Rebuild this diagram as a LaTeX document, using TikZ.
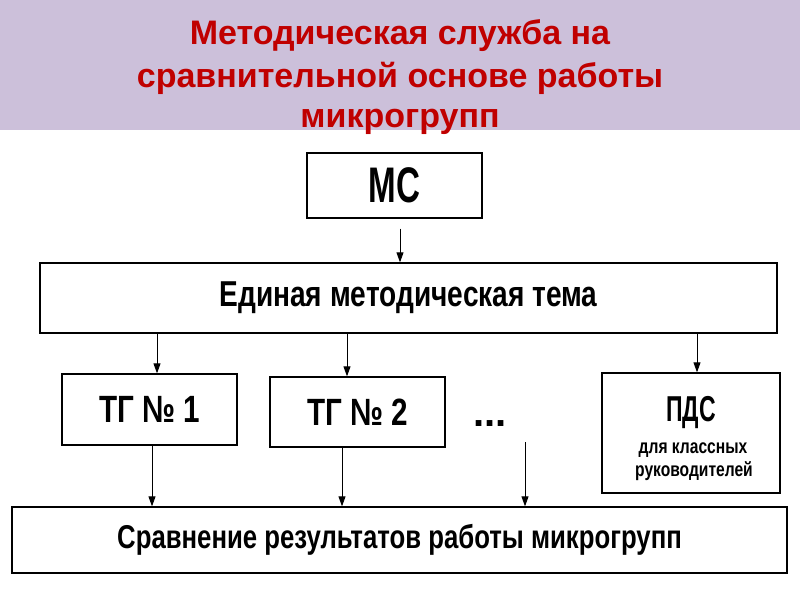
\documentclass[tikz,border=0pt]{standalone}
\usepackage{fontspec}
\setmainfont{Liberation Sans}
\newfontfamily\narrowfont[FakeStretch=0.78]{Liberation Sans}
\usetikzlibrary{arrows.meta}
\definecolor{bandcol}{HTML}{CCC0DA}
\definecolor{titlecol}{HTML}{C00000}
\tikzset{
  box/.style={draw=black, line width=1.3pt, fill=white, inner sep=0pt},
  boxtext/.style={font=\narrowfont\bfseries\fontsize{36}{40}\selectfont},
  titletext/.style={font=\bfseries\fontsize{34}{40}\selectfont, text=titlecol, anchor=base},
  arr/.style={-{Triangle[length=10pt,width=7pt]}, line width=0.9pt, black},
}
\begin{document}
\begin{tikzpicture}[x=1pt,y=-1pt]
\useasboundingbox (0,0) rectangle (800,600);
\fill[bandcol] (0,0) rectangle (800,130);
\node[titletext] (t1) at (400,44) {Методическая служба на};
\node[titletext] (t2) at (400,87) {сравнительной основе работы};
\node[titletext] (t3) at (400,127) {микрогрупп};

\node[box, minimum width=175pt, minimum height=65pt] (ms) at (394.5,185.5) {};
\node[boxtext, font=\narrowfont\bfseries\fontsize{50}{54}\selectfont] (mst) at (ms) {\scalebox{0.85}[1]{МС}};

\node[box, minimum width=737pt, minimum height=70pt] (e) at (408.5,298) {};
\node[boxtext] (et) at (e) {Единая методическая тема};

\node[box, minimum width=175pt, minimum height=71pt] (tg1) at (149.5,409.5) {};
\node[boxtext, font=\narrowfont\bfseries\fontsize{38}{42}\selectfont] (tg1t) at (tg1) {ТГ № 1};

\node[box, minimum width=175pt, minimum height=70pt] (tg2) at (357.5,412) {};
\node[boxtext, font=\narrowfont\bfseries\fontsize{38}{42}\selectfont] (tg2t) at (tg2) {ТГ № 2};

\node[font=\bfseries\fontsize{40}{44}\selectfont] (dots) at (490,424) {...};

\node[box, minimum width=178pt, minimum height=120pt] (pds) at (691,433) {};
\node[font=\narrowfont\bfseries\fontsize{36}{40}\selectfont, anchor=base] (pdst) at (691,421) {\scalebox{0.82}[1]{ПДС}};
\node[font=\narrowfont\bfseries\fontsize{20}{24}\selectfont, anchor=base] (pds2) at (693,453) {для классных};
\node[font=\narrowfont\bfseries\fontsize{20}{24}\selectfont, anchor=base] (pds3) at (694,476) {руководителей};

\node[box, minimum width=775pt, minimum height=66pt] (res) at (399.5,540) {};
\node[boxtext, font=\narrowfont\bfseries\fontsize{33}{37}\selectfont] (rest) at (res) {Сравнение результатов работы микрогрупп};

\coordinate (c3) at (525,442);

\draw[arr, shorten <=10pt] ([xshift=5.5pt]ms.south) -- ([xshift=5.5pt]ms.south |- e.north);
\draw[arr] ([xshift=7.5pt]tg1.north |- e.south) -- ([xshift=7.5pt]tg1.north);
\draw[arr] ([xshift=-10.5pt]tg2.north |- e.south) -- ([xshift=-10.5pt]tg2.north);
\draw[arr] ([xshift=6pt]pds.north |- e.south) -- ([xshift=6pt]pds.north);
\draw[arr] ([xshift=2.5pt]tg1.south) -- ([xshift=2.5pt]tg1.south |- res.north);
\draw[arr] ([xshift=-15.5pt]tg2.south) -- ([xshift=-15.5pt]tg2.south |- res.north);
\draw[arr] (c3) -- (c3 |- res.north);
\end{tikzpicture}
\end{document}
